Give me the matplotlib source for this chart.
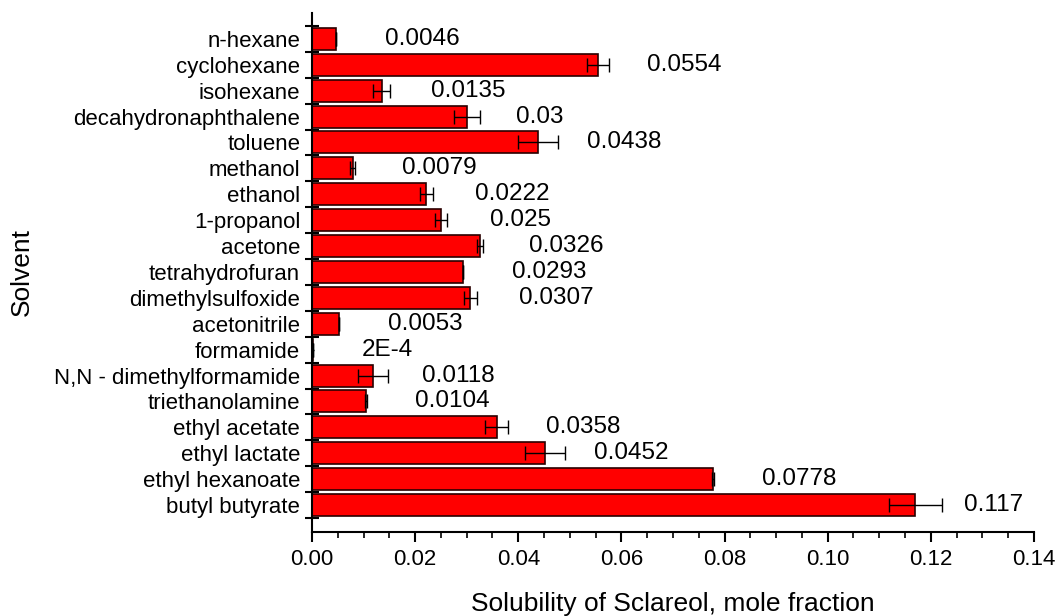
import numpy as np
import matplotlib
matplotlib.use("Agg")
import matplotlib.pyplot as plt
from matplotlib.ticker import MultipleLocator, FixedLocator, NullFormatter

plt.rcParams['font.family'] = ['Liberation Sans', 'DejaVu Sans']

# Solvents, listed from top to bottom
solvents = [
    "n-hexane", "cyclohexane", "isohexane", "decahydronaphthalene", "toluene",
    "methanol", "ethanol", "1-propanol", "acetone", "tetrahydrofuran",
    "dimethylsulfoxide", "acetonitrile", "formamide", "N,N - dimethylformamide",
    "triethanolamine", "ethyl acetate", "ethyl lactate", "ethyl hexanoate",
    "butyl butyrate",
]
# Solubility of sclareol (mole fraction)
solubility = [
    0.0046, 0.0554, 0.0135, 0.03, 0.0438,
    0.0079, 0.0222, 0.025, 0.0326, 0.0293,
    0.0307, 0.0053, 0.0002, 0.0118,
    0.0104, 0.0358, 0.0452, 0.0778,
    0.117,
]
# Standard deviations
solubility_err = [
    0.0, 0.0021, 0.0016, 0.0025, 0.0039,
    0.0005, 0.00125, 0.0012, 0.0006, 0.0,
    0.00125, 0.0, 0.0, 0.0029,
    0.0002, 0.0022, 0.0039, 0.0002,
    0.0052,
]
x_ticks = [0.00, 0.02, 0.04, 0.06, 0.08, 0.10, 0.12, 0.14]


def fmt_value(v):
    if v < 0.001:
        mant, exp = f"{v:.0E}".split("E")
        return f"{mant}E{int(exp)}"
    return f"{v:g}"


n = len(solvents)
ypos = np.arange(n)[::-1]

fig = plt.figure(figsize=(10.58, 6.16), dpi=100)
ax = fig.add_axes([0.2949, 0.1364, 0.6824, 0.8425])

ax.barh(ypos, solubility, height=0.85, color="#ff0000",
        edgecolor="#2a0000", linewidth=1.2, zorder=2)
ax.errorbar(solubility, ypos, xerr=solubility_err, fmt="none",
            ecolor="black", elinewidth=1.0, capsize=5, capthick=1.0, zorder=3)

for v, y in zip(solubility, ypos):
    ax.text(v + 0.0095, y, fmt_value(v), ha="left", va="center",
            fontsize=17.5, color="black")

ax.set_xlim(0, 0.14)
ax.set_ylim(-1.04, n - 0.5 + 0.5)

ax.xaxis.set_major_locator(FixedLocator(x_ticks))
ax.set_xticklabels([f"{t:.2f}" for t in x_ticks])
ax.xaxis.set_minor_locator(MultipleLocator(0.005))
ax.tick_params(axis="x", which="major", direction="out", length=7.5,
               width=1.5, labelsize=16, pad=5)
ax.tick_params(axis="x", which="minor", direction="out", length=4.5, width=1.2)

# Category boundaries as major ticks, names at the category centres
ax.yaxis.set_major_locator(FixedLocator(np.arange(n + 1) - 0.5))
ax.yaxis.set_major_formatter(NullFormatter())
ax.yaxis.set_minor_locator(FixedLocator(ypos))
ax.set_yticks(ypos, solvents, minor=True)
ax.tick_params(axis="y", which="major", direction="inout", length=9.5, width=1.5)
ax.tick_params(axis="y", which="minor", direction="in", length=1.5, width=1.0,
               labelsize=16, pad=8.5)

for side in ("top", "right"):
    ax.spines[side].set_visible(False)
for side in ("left", "bottom"):
    ax.spines[side].set_linewidth(1.5)

ax.set_xlabel("Solubility of Sclareol, mole fraction", fontsize=19)
ax.xaxis.set_label_coords(0.5, -0.116)
ax.set_ylabel("Solvent", fontsize=19)
ax.yaxis.set_label_coords(-0.385, 0.5)

fig.savefig("out.png", dpi=100)
